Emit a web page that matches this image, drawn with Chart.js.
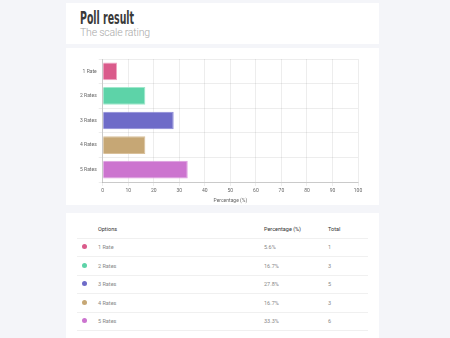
<!DOCTYPE html>
<html>
<head>
<meta charset="utf-8">
<script src="https://cdn.jsdelivr.net/npm/chart.js@4"></script>
<style>
  html, body { margin:0; padding:0; }
  body { width:450px; height:338px; background:#f4f5f9; position:relative; overflow:hidden; font-family:Roboto, sans-serif; }
  .card { position:absolute; left:66px; width:313px; background:#fff; }
  #head { top:3px; height:41px; }
  #head h1 { position:absolute; left:14px; top:4px; margin:0; font:bold 18px "DejaVu Sans Condensed", sans-serif; color:#3a3a3a; transform:scaleX(0.58); transform-origin:left top; white-space:nowrap; }
  #head p { position:absolute; left:14px; top:23px; margin:0; font:300 10.5px Roboto, sans-serif; color:#a8a8a8; letter-spacing:-0.2px; }
  #chartcard { top:48px; height:157px; }
  #chartbox { position:absolute; left:12px; top:5px; width:300px; height:153px; }
  #tablecard { top:213px; height:130px; }
  table { position:absolute; left:11px; top:7px; width:291px; border-collapse:collapse; font:5.5px Roboto, sans-serif; }
  td, th { height:17.5px; padding:0; border-bottom:0.5px solid #f0f0f0; text-align:left; }
  th { font-weight:400; color:#333; }
  td { color:#888; }
  .dot { display:inline-block; width:5px; height:5px; border-radius:50%; margin-left:5px; }
</style>
</head>
<body>
<div class="card" id="head"><h1>Poll result</h1><p>The scale rating</p></div>
<div class="card" id="chartcard"><div id="chartbox"><canvas id="chart"></canvas></div></div>
<div class="card" id="tablecard">
  <table id="tbl"></table>
</div>
<script>
var categorias = ['1 Rate', '2 Rates', '3 Rates', '4 Rates', '5 Rates'];
var percentuais = [5.6, 16.7, 27.8, 16.7, 33.3];
var totais = [1, 3, 5, 3, 6];
var cores = ['#da5b8b', '#5dd3a8', '#6e6bc8', '#c6a775', '#cc74cf'];
var bordas = ['#f0a6c3', '#9fe8cb', '#8a88d8', '#d9c09a', '#dd9ade'];
var xTicks = [0, 10, 20, 30, 40, 50, 60, 70, 80, 90, 100];

// tabela
var tbl = document.getElementById('tbl');
var html = '<tr><th style="width:21px"></th><th style="width:166px">Options</th><th style="width:64px">Percentage (%)</th><th>Total</th></tr>';
categorias.forEach(function(c, i) {
  html += '<tr><td><span class="dot" style="background:' + cores[i] + '"></span></td>' +
    '<td>' + c + '</td><td>' + percentuais[i] + '%</td><td>' + totais[i] + '</td></tr>';
});
tbl.innerHTML = html;

Chart.defaults.font.family = 'Roboto, sans-serif';
Chart.defaults.font.size = 5;
Chart.defaults.color = '#666';

new Chart(document.getElementById('chart'), {
  type: 'bar',
  data: {
    labels: categorias,
    datasets: [{
      data: percentuais,
      backgroundColor: cores,
      borderColor: bordas,
      borderWidth: 1
    }]
  },
  options: {
    indexAxis: 'y',
    responsive: true,
    maintainAspectRatio: false,
    animation: false,
    plugins: { legend: { display: false }, tooltip: { enabled: false } },
    layout: { padding: { left: 0, right: 20, top: 6, bottom: 0 } },
    scales: {
      x: {
        min: 0, max: 100,
        afterBuildTicks: function(ax) { ax.ticks = xTicks.map(function(v){ return { value: v }; }); },
        grid: { color: 'rgba(0,0,0,.07)', tickLength: 4 },
        border: { color: 'rgba(0,0,0,.15)' },
        ticks: { padding: 2 },
        title: { display: true, text: 'Percentage (%)', padding: 2, font: { size: 5 } }
      },
      y: {
        grid: { color: 'rgba(0,0,0,.07)', tickLength: 4 },
        border: { color: 'rgba(0,0,0,.15)' },
        ticks: { padding: 2 }
      }
    }
  }
});
</script>
</body>
</html>
